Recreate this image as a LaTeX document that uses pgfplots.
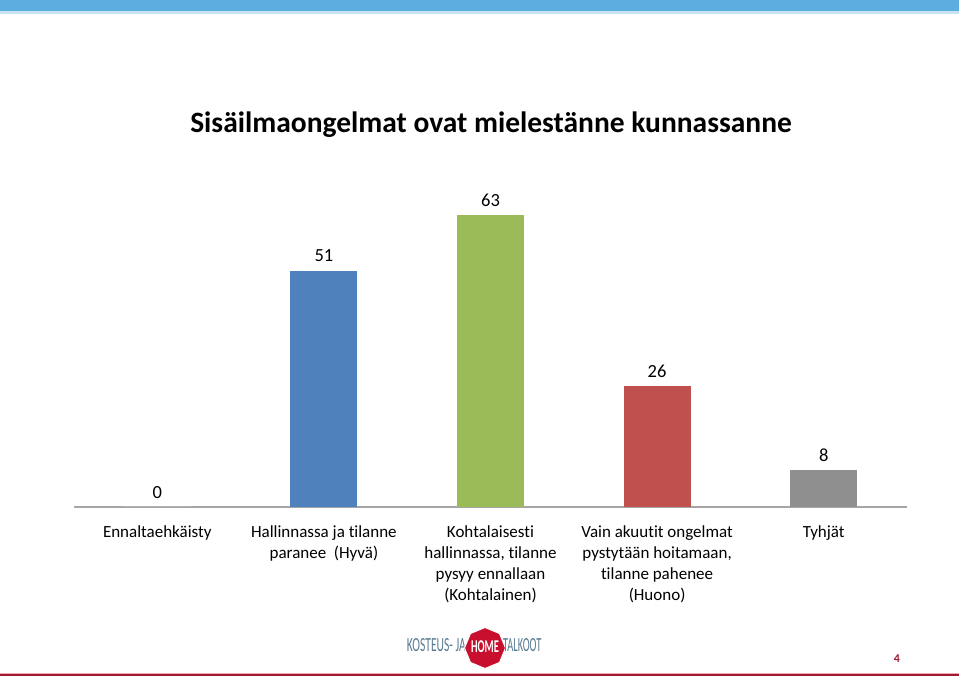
\documentclass[border=0pt]{standalone}
\usepackage{fontspec}
\setmainfont{Carlito}[Ligatures={NoCommon}]
\newfontfamily\logofont[FakeStretch=0.58]{Carlito}
\newfontfamily\logofontb[FakeStretch=0.52]{Carlito}
\usepackage{pgfplots}
\pgfplotsset{compat=1.18}
\usetikzlibrary{shapes.geometric}
\definecolor{cblue}{HTML}{4F81BD}
\definecolor{cgreen}{HTML}{9BBB59}
\definecolor{cred}{HTML}{C0504D}
\definecolor{cgray}{HTML}{8F8F8F}
\definecolor{topblue}{HTML}{5DADE0}
\definecolor{toplight}{HTML}{C6E2F3}
\definecolor{botred}{HTML}{9E1B32}
\definecolor{botpink}{HTML}{F2A7B6}
\definecolor{logotext}{HTML}{587A90}
\definecolor{logored}{HTML}{C8102E}
\definecolor{axisgray}{HTML}{A6A6A6}
\begin{document}
\begin{tikzpicture}[x=1pt,y=1pt]
\path[use as bounding box] (0,0) rectangle (959,676);
\fill[topblue] (0,665) rectangle (959,676);
\fill[toplight] (0,662) rectangle (959,664.5);
\fill[botred] (0,0) rectangle (959,2.2);
\fill[botpink] (0,2.2) rectangle (959,3.4);
\node[font=\bfseries\fontsize{29.5}{34}\selectfont] at (491,551) {Sisäilmaongelmat ovat mielestänne kunnassanne};
\begin{axis}[
  at={(74pt,169pt)}, anchor=south west,
  scale only axis, width=833pt, height=292pt,
  xmin=-0.5, xmax=4.5, ymin=0, ymax=63,
  clip=false,
  hide y axis,
  axis x line*=bottom,
  x axis line style={draw=axisgray, line width=1.2pt, -},
  xtick={0,1,2,3,4},
  xticklabels={{Ennaltaehkäisty},{Hallinnassa ja tilanne\\paranee\ \ (Hyvä)},{Kohtalaisesti\\hallinnassa, tilanne\\pysyy ennallaan\\(Kohtalainen)},{Vain akuutit ongelmat\\pystytään hoitamaan,\\tilanne pahenee\\(Huono)},{Tyhjät}},
  xticklabel style={align=center, font=\fontsize{17}{21}\selectfont, anchor=north, yshift=-15pt},
  major tick length=0pt,
  ytick=\empty,
  ybar, bar width=67pt, bar shift=0pt,
  nodes near coords,
  /pgf/number format/assume math mode=true,
  every node near coord/.append style={font=\fontsize{18.5}{21}\selectfont, black, yshift=5pt},
]
\addplot[draw=none, fill=white] coordinates {(0,0)};
\addplot[draw=none, fill=cblue] coordinates {(1,51)};
\addplot[draw=none, fill=cgreen] coordinates {(2,63)};
\addplot[draw=none, fill=cred] coordinates {(3,26)};
\addplot[draw=none, fill=cgray] coordinates {(4,8)};
\end{axis}
% logo
\node[anchor=east, inner sep=0pt, text=logotext, font=\logofont\fontsize{20}{20}\selectfont] at (466,30.5) {KOSTEUS- JA};
\node[regular polygon, regular polygon sides=8, fill=logored, draw=white, line width=1pt, minimum size=41pt, inner sep=0pt, shape border rotate=22.5] at (485,28) {};
\node[text=white, font=\logofont\bfseries\fontsize{18}{18}\selectfont, inner sep=0pt] at (485,29) {HOME};
\node[anchor=west, inner sep=0pt, text=logotext, font=\logofontb\fontsize{20}{20}\selectfont] at (503,30.5) {TALKOOT};
\node[text=botred, font=\bfseries\fontsize{12}{12}\selectfont] at (897,17) {4};
\end{tikzpicture}
\end{document}
